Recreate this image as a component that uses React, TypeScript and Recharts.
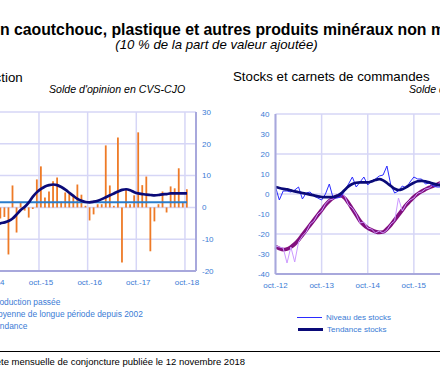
import React from "react";
import {
  ComposedChart,
  Bar,
  Line,
  XAxis,
  YAxis,
  CartesianGrid,
  ReferenceLine,
} from "recharts";

const MONTHS = ["janv.", "févr.", "mars", "avr.", "mai", "juin", "juil.", "août", "sept.", "oct.", "nov.", "déc."];

const monthRange = (year: number, month: number, count: number) =>
  Array.from({ length: count }, (_, k) => {
    const m = month + k;
    return `${MONTHS[m % 12]}-${String(year + Math.floor(m / 12)).slice(2)}`;
  });

// Production, monthly oct.-14 -> oct.-18
const prodMonths = monthRange(2014, 9, 49);
const prodPast = [
  -2, -5, -3.5, -3, -14.8, 6.9, -7.9, 1.6, -1, -3.2, -0.5, 8.8,
  12.9, 3.1, 5, 8.2, 9.4, 1.8, 4.7, 4.4, 3.5, 7.2, 4, 0.5,
  -4.1, -2.2, 1, 1, 19.5, 6.9, 0.5, 22, -17.3, 5.8, 1, 3.8,
  23.6, 7, 9.7, -13.8, -4.4, 1, 5, -1.6, 6.6, 6, 12.3, 1.4,
  5.7,
];
const prodTrend = [
  -6, -5.6, -5, -4.7, -4.3, -3.5, -2.2, -0.8, 0.2, 1.6, 3.4, 4.8,
  5.8, 6.6, 7, 7.2, 7, 6.4, 5.6, 4.6, 3.6, 2.7, 2.1, 1.7,
  1.6, 1.8, 2.1, 2.6, 3.2, 3.8, 4.4, 5, 5.5, 5.7, 5.4, 4.8,
  4.4, 4.2, 4, 3.9, 3.8, 3.9, 4.1, 4.2, 4.4, 4.4, 4.4, 4.4,
  4.4,
];
const prodMean = 1.6;

// Stocks et carnets, monthly from oct.-12 (axis runs to oct.-18)
const stockMonths = monthRange(2012, 9, 73);
const stockLevel = [
  3.5, -3, 1.5, 1.5, 1, 2, 3.5, -2.5, 0.5, 1, -1, -2,
  -3, 0, 5, -2, -2, -1.5, 1.5, 5, 8.5, 3.5, 6, 8.5,
  4.5, 6.5, 7.5, 9, 9.5, 14, 4.5, 0.5, 1.5, 4, 3, 6,
  8.5, 7.5, 7.5, 5, 5.5, 4, 3.5, 3.5, 3, 4, 2,
];
const stockTrend = [
  3.5, 3, 2.6, 2.3, 1.8, 1.3, 0.9, 0.5, 0.1, -0.3, -0.7, -1.2,
  -1.5, -1.6, -1.6, -1.5, -1, 0.2, 2, 3.8, 5, 5.6, 5.8, 5.8,
  5.8, 6.3, 7, 7.4, 6.8, 5.5, 4, 2.6, 2, 2.4, 3.4, 4.6,
  5.6, 6.4, 6.6, 6.3, 5.8, 5.2, 4.7, 4.4, 4.2, 4, 3.8,
];
const orderLevel = [
  -26, -26.5, -27, -34.5, -26.5, -34, -24, -21, -19, -15, -13.5, -10,
  -8.5, -5, -3, -2.5, -0.5, 0.5, -1, -5.5, -7, -10, -14.5, -14,
  -17, -17.5, -19.5, -18.5, -19.5, -18, -15, -13.5, -2, -8.5, -5, -3,
  -2, 0.5, 1, 2.5, 3, 4.5, 4.5, 6, 6, 7, 6.5,
];
const orderTrend = [
  -26.3, -27.2, -27.8, -27.5, -26.5, -25, -23, -20.5, -18, -15.5, -13, -10.5,
  -8, -5.5, -3.5, -2, -1, -0.8, -2, -4.5, -7.5, -10.5, -13.5, -15.5,
  -17, -18, -18.8, -19.2, -19, -17.5, -15.5, -13, -10.5, -8, -5.5, -3.5,
  -1.5, 0, 1.3, 2.3, 3.2, 4, 4.8, 5.5, 6, 6.5, 6.8,
];

const prodData = prodMonths.map((month, i) => ({
  month,
  past: prodPast[i],
  mean: prodMean,
  trend: prodTrend[i],
}));
const stockData = stockMonths.map((month, i) => ({
  month,
  stockLevel: stockLevel[i],
  stockTrend: stockTrend[i],
  orderLevel: orderLevel[i],
  orderTrend: orderTrend[i],
}));
const prodOctobers = prodMonths.filter((m) => m.startsWith("oct."));
const stockOctobers = stockMonths.filter((m) => m.startsWith("oct."));

const TEXT_BLUE = "#3A7BD5";
const GRID = "#D6D6F6";
const AXIS = "#A8A8DC";
const ORANGE = "#EE7A26";
const MEAN_BLUE = "#2A7CCB";
const NAVY = "#0A0A78";
const STOCK_BLUE = "#2B2BFF";
const PURPLE = "#82107E";
const LILAC = "#CC99FF";

const FONT = "'Liberation Sans', Arial, sans-serif";
const tickStyle = { fill: TEXT_BLUE, fontSize: 8, fontFamily: FONT };

const abs = (left: number, top: number, extra: React.CSSProperties = {}): React.CSSProperties => ({
  position: "absolute",
  left,
  top,
  whiteSpace: "nowrap",
  lineHeight: 1,
  ...extra,
});

// legend row: x is where the label text starts, marker sits to its left
function LegendRow({ x, y, color, width, label, bar, size = 8 }: { x: number; y: number; color: string; width: number; label: string; bar?: boolean; size?: number }) {
  const mw = bar ? 8 : 25;
  return (
    <div style={abs(x - mw - 4, y, { fontSize: size, color: TEXT_BLUE, display: "flex", alignItems: "center" })}>
      <span
        style={{
          display: "inline-block",
          width: mw,
          height: bar ? 6 : width,
          background: color,
          marginRight: 4,
        }}
      />
      <span>{label}</span>
    </div>
  );
}

export default function App() {
  return (
    <div
      style={{
        position: "absolute",
        left: 0,
        top: 0,
        width: 440,
        height: 379,
        overflow: "hidden",
        background: "#fff",
        fontFamily: FONT,
      }}
    >
      <div style={abs(-77.3, 21.5, { fontSize: 15.8, fontWeight: "bold", color: "#000" })}>
        Produits en caoutchouc, plastique et autres produits minéraux non métalliques
      </div>
      <div style={abs(0, 37.8, { width: 433, textAlign: "center", fontSize: 13.2, fontStyle: "italic", color: "#000" })}>
        (10 % de la part de valeur ajoutée)
      </div>

      {/* left panel */}
      <div style={abs(-200, 70.5, { width: 222.7, textAlign: "right", fontSize: 13.3, color: "#000" })}>Production</div>
      <div style={abs(49, 83.5, { fontSize: 10.6, fontStyle: "italic", color: "#000" })}>Solde d'opinion en CVS-CJO</div>
      <div style={abs(-70, 0)}>
        <ComposedChart width={300} height={379} data={prodData} margin={{ top: 112, right: 4, bottom: 78, left: 60.33 }}>
          <CartesianGrid vertical={false} stroke={GRID} strokeWidth={1.5} />
          {prodOctobers.map((m) => (
            <ReferenceLine key={m} x={m} position="start" stroke={GRID} strokeWidth={1.5} />
          ))}
          <XAxis
            dataKey="month"
            interval={11}
            tickLine={false}
            axisLine={{ stroke: AXIS, strokeWidth: 2 }}
            tick={tickStyle}
            padding={{ left: 0, right: 7 }}
          />
          <YAxis
            orientation="right"
            domain={[-20, 30]}
            ticks={[-20, -10, 0, 10, 20, 30]}
            width={30}
            tickLine={false}
            tickSize={4}
            tickMargin={2}
            axisLine={{ stroke: AXIS, strokeWidth: 2 }}
            tick={tickStyle}
          />
          <Bar dataKey="past" fill={ORANGE} barSize={1.8} isAnimationActive={false} />
          <Line dataKey="mean" stroke={MEAN_BLUE} strokeWidth={2} dot={false} isAnimationActive={false} />
          <Line type="monotone" dataKey="trend" stroke={NAVY} strokeWidth={2.7} dot={false} isAnimationActive={false} />
        </ComposedChart>
      </div>
      <LegendRow x={-9} y={297.6} color={ORANGE} width={6} label="Production passée" bar size={8.4} />
      <LegendRow x={-9} y={309.8} color={MEAN_BLUE} width={2} label="Moyenne de longue période depuis 2002" size={8.4} />
      <LegendRow x={-9} y={322} color={NAVY} width={3} label="Tendance" size={8.4} />

      {/* right panel */}
      <div style={abs(233, 70.2, { fontSize: 13.3, color: "#000" })}>Stocks et carnets de commandes</div>
      <div style={abs(409, 83.5, { fontSize: 10.6, fontStyle: "italic", color: "#000" })}>Solde d'opinion en CVS-CJO</div>
      <div style={abs(200, 0)}>
        <ComposedChart width={400} height={379} data={stockData} margin={{ top: 114, right: 47.8, bottom: 75, left: 35.5 }}>
          <CartesianGrid vertical={false} stroke={GRID} strokeWidth={1.5} />
          {stockOctobers.map((m) => (
            <ReferenceLine key={m} x={m} position="start" stroke={GRID} strokeWidth={1.5} />
          ))}
          <XAxis
            dataKey="month"
            interval={11}
            tickLine={false}
            axisLine={{ stroke: AXIS, strokeWidth: 2 }}
            tick={tickStyle}
          />
          <YAxis
            domain={[-40, 40]}
            ticks={[-40, -30, -20, -10, 0, 10, 20, 30, 40]}
            width={40}
            tickLine={false}
            tickSize={4}
            tickMargin={2}
            axisLine={{ stroke: AXIS, strokeWidth: 2 }}
            tick={tickStyle}
          />
          <Line type="monotone" dataKey="orderTrend" stroke={PURPLE} strokeWidth={3.8} dot={false} isAnimationActive={false} />
          <Line dataKey="orderLevel" stroke={LILAC} strokeWidth={1} dot={false} isAnimationActive={false} />
          <Line dataKey="stockLevel" stroke={STOCK_BLUE} strokeWidth={1} dot={false} isAnimationActive={false} />
          <Line type="monotone" dataKey="stockTrend" stroke={NAVY} strokeWidth={2.7} dot={false} isAnimationActive={false} />
        </ComposedChart>
      </div>
      <LegendRow x={326} y={313.7} color={STOCK_BLUE} width={1} label="Niveau des stocks" />
      <LegendRow x={327} y={325.5} color={NAVY} width={3} label="Tendance stocks" />
      <LegendRow x={489} y={313.7} color={LILAC} width={1} label="Niveau des carnets" />
      <LegendRow x={489} y={325.5} color={PURPLE} width={3} label="Tendance carnets" />

      <div style={abs(0, 351, { width: 440, height: 1, background: "#000" })} />
      <div style={abs(-400, 357, { width: 645, textAlign: "right", fontSize: 9.5, color: "#000" })}>
        Source : Banque de France – Enquête mensuelle de conjoncture publiée le 12 novembre 2018
      </div>
    </div>
  );
}
